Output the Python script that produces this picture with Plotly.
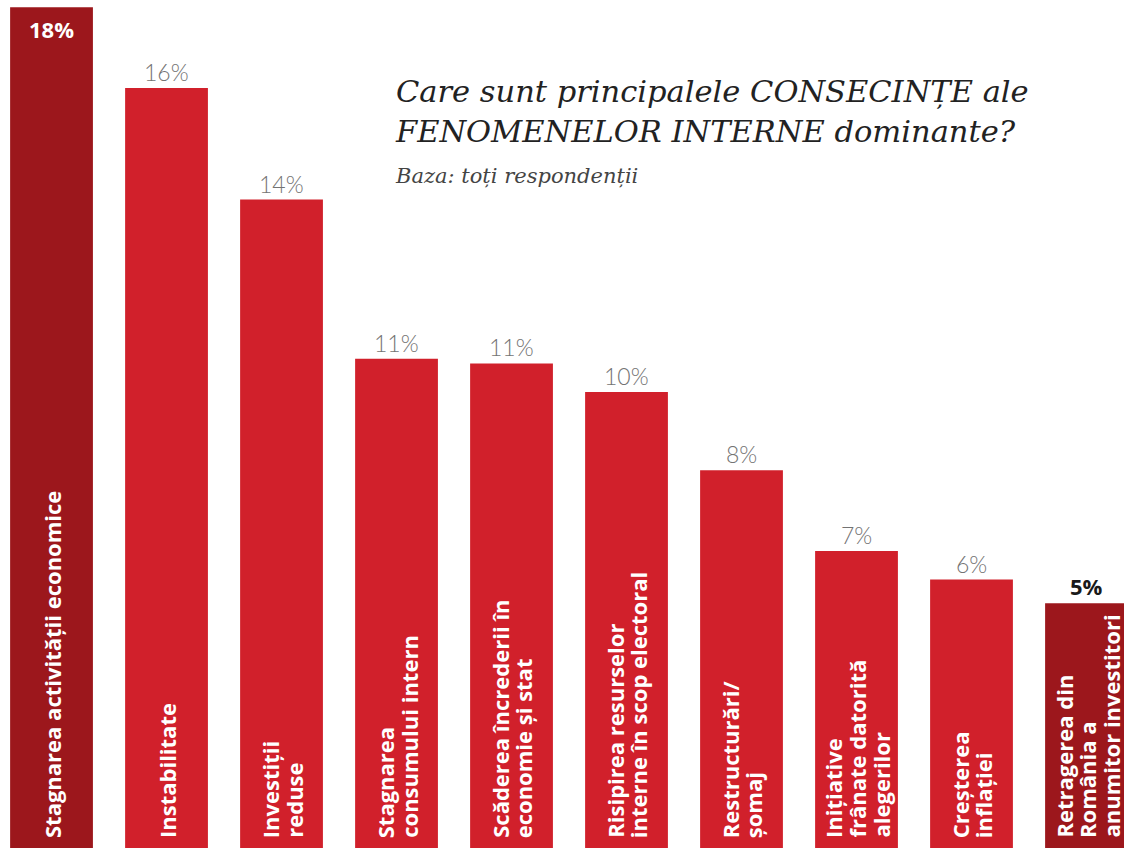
import plotly.graph_objects as go

# date
categorii = [
    "Stagnarea activității economice",
    "Instabilitate",
    "Investiții<br>reduse",
    "Stagnarea<br>consumului intern",
    "Scăderea încrederii în<br>economie și stat",
    "Risipirea resurselor<br>interne în scop electoral",
    "Restructurări/<br>șomaj",
    "Inițiative<br>frânate datorită<br>alegerilor",
    "Creșterea<br>inflației",
    "Retragerea din<br>România a<br>anumitor investitori",
]
valori = [17.7, 16.0, 13.65, 10.3, 10.2, 9.6, 7.95, 6.25, 5.65, 5.15]
etichete = ["18%", "16%", "14%", "11%", "11%", "10%", "8%", "7%", "6%", "5%"]
evidentiate = [0, 9]  # bare colorate mai închis

ROSU = "#d1202b"
ROSU_INCHIS = "#9c171c"

x = list(range(len(categorii)))
culori = [ROSU_INCHIS if i in evidentiate else ROSU for i in x]

fig = go.Figure()
fig.add_trace(go.Bar(
    x=x,
    y=valori,
    marker_color=culori,
    marker_line_width=0,
    hoverinfo="skip",
))

adnotari = []
# etichete categorii, rotite, în interiorul barelor (câte o adnotare pe rând,
# ca să controlăm spațierea rândurilor)
PAS_RAND = 23.5
for i, cat in enumerate(categorii):
    randuri = cat.split("<br>")
    n = len(randuri)
    for k, r in enumerate(randuri):
        adnotari.append(dict(
            x=i, y=0, xref="x", yref="y",
            text=r, textangle=-90, showarrow=False,
            xanchor="center", yanchor="bottom", yshift=8,
            xshift=(k - (n - 1) / 2) * PAS_RAND,
            font=dict(family="Open Sans", size=22, color="white", weight=700),
        ))

# etichete valori
for i, (v, t) in enumerate(zip(valori, etichete)):
    if i == 0:
        adnotari.append(dict(
            x=i, y=v, text=t, showarrow=False, yanchor="top", yshift=-5,
            font=dict(family="Open Sans", size=22, color="white", weight=700),
        ))
    elif i == len(valori) - 1:
        adnotari.append(dict(
            x=i, y=v, text=t, showarrow=False, yanchor="bottom", yshift=0,
            font=dict(family="Open Sans", size=22, color="#1a1a1a", weight=700),
        ))
    else:
        adnotari.append(dict(
            x=i, y=v, text=t, showarrow=False, yanchor="bottom", yshift=0,
            font=dict(family="Lato", size=23, color="#737373", weight=300),
        ))

# titlu și subtitlu
adnotari.append(dict(
    xref="paper", yref="paper", x=393 / 1124, y=1 - 72 / 848,
    xanchor="left", yanchor="top", align="left", showarrow=False,
    text="<i>Care sunt principalele CONSECINȚE ale<br>FENOMENELOR INTERNE dominante?</i>",
    font=dict(family="DejaVu Serif", size=30.5, color="#222222"),
))
adnotari.append(dict(
    xref="paper", yref="paper", x=393 / 1124, y=1 - 162 / 848,
    xanchor="left", yanchor="top", align="left", showarrow=False,
    text="<i>Baza: toți respondenții</i>",
    font=dict(family="DejaVu Serif", size=21, color="#444444"),
))

fig.update_layout(
    width=1124, height=848,
    margin=dict(l=0, r=0, t=0, b=0),
    paper_bgcolor="white", plot_bgcolor="white",
    showlegend=False,
    bargap=0.28,
    annotations=adnotari,
    xaxis=dict(range=[-0.448, 9.326], visible=False, fixedrange=True),
    yaxis=dict(range=[0, 17.85], visible=False, fixedrange=True),
)

fig.write_html(
    "out.html",
    config={"displayModeBar": False},
    post_script="document.body.style.margin='0';document.body.style.overflow='hidden';",
)
